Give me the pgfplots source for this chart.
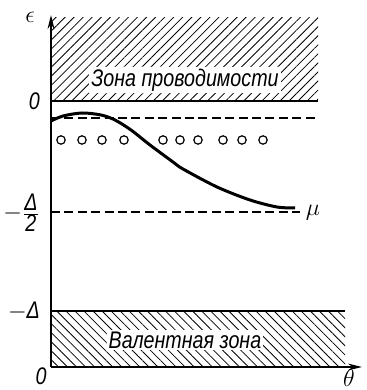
\documentclass[border=0pt]{standalone}
\usepackage{fontspec}
\setmainfont{Liberation Sans}
\newfontfamily\drawfont{Liberation Sans}[FakeStretch=0.82]
\usepackage{pgfplots}
\pgfplotsset{compat=1.18}
\usetikzlibrary{patterns.meta,arrows.meta}
\begin{document}
\begin{tikzpicture}
\begin{axis}[
  scale only axis, width=155.5pt, height=176pt,
  xmin=0, xmax=311, ymin=0, ymax=352,
  axis lines=left,
  axis line style={line width=0.8pt,-{Stealth[length=7pt,width=3.4pt]}},
  xtick=\empty,
  ytick={266,154,56},
  yticklabels={{\drawfont\itshape 0},
    {$-\frac{\mbox{\drawfont\itshape Δ}}{\mbox{\drawfont\itshape 2}}$},
    {$-$\drawfont\itshape Δ}},
  major tick length=0pt,
  yticklabel style={font=\large, xshift=-2pt},
  clip=false,
]
% conduction band
\addplot[draw=none, pattern={Lines[angle=45,distance=3.2pt,line width=0.4pt]}]
  coordinates {(0,266) (267,266) (267,349) (0,349)} -- cycle;
% valence band
\addplot[draw=none, pattern={Lines[angle=-45,distance=3.2pt,line width=0.4pt]}]
  coordinates {(0,0) (294,0) (294,56) (0,56)} -- cycle;
% band edges
\addplot[line width=0.9pt] coordinates {(0,266) (267,266)};
\addplot[line width=0.9pt] coordinates {(0,56) (294,56)};
% dashed levels
\addplot[line width=0.7pt, dash pattern=on 4.5pt off 2.2pt] coordinates {(0,249) (267,249)};
\addplot[line width=0.7pt, dash pattern=on 4.5pt off 2.2pt] coordinates {(0,155) (249,155)};
% impurity levels (circles)
\addplot[only marks, mark=o, mark size=2.1pt, mark options={line width=0.6pt}]
  coordinates {(10,227) (31,227) (51,227) (73,227) (112,227) (129,227) (147,227) (172,227) (191,227) (212,227)};
% chemical potential
\addplot[smooth, line width=1.5pt, tension=0.5] coordinates {
  (0,246) (12,251) (31,254) (50,252) (64,247) (80,237) (99,222) (122,205)
  (132,198) (166,180) (199,167) (226,160) (244,159)};
% labels
\node[font=\drawfont\large\itshape, fill=white, inner sep=1pt] at (axis cs:134,287) {Зона проводимости};
\node[font=\drawfont\large\itshape, fill=white, inner sep=1pt] at (axis cs:134,27) {Валентная зона};
\node[font=\large] at (axis cs:-21,350) {$\epsilon$};
\node[font=\large] at (axis cs:262,154) {$\mu$};
\node[font=\drawfont\large\itshape] at (axis cs:-10,-9) {0};
\node[font=\large] at (axis cs:298,-11) {$\theta$};
\coordinate (bl) at (axis cs:-51,-23);
\coordinate (tr) at (axis cs:315,367);
\end{axis}
\pgfresetboundingbox
\path (bl) rectangle (tr);
\end{tikzpicture}
\end{document}
